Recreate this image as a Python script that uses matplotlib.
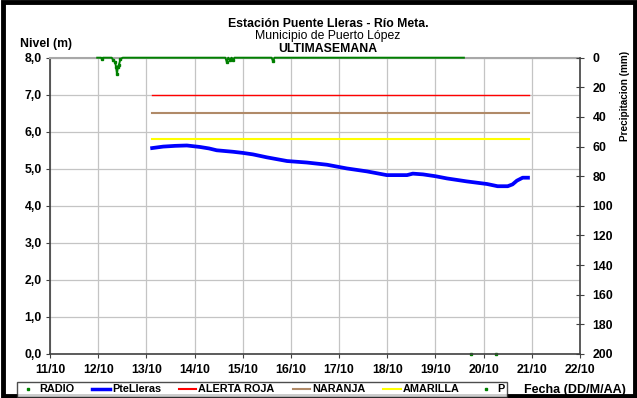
import matplotlib
matplotlib.use('Agg')
import matplotlib.pyplot as plt
from matplotlib.lines import Line2D
from matplotlib.patches import Rectangle

plt.rcParams['font.family'] = ['Liberation Sans', 'DejaVu Sans']

# ---------------- data ----------------
x_ticks = [11, 12, 13, 14, 15, 16, 17, 18, 19, 20, 21, 22]
x_tick_labels = ['11/10', '12/10', '13/10', '14/10', '15/10', '16/10',
                 '17/10', '18/10', '19/10', '20/10', '21/10', '22/10']
y_ticks = [0, 1, 2, 3, 4, 5, 6, 7, 8]
y_tick_labels = ['0,0', '1,0', '2,0', '3,0', '4,0', '5,0', '6,0', '7,0', '8,0']
p_ticks = [0, 20, 40, 60, 80, 100, 120, 140, 160, 180, 200]

# PteLleras water level (m), day of October
level_days = [13.12, 13.35, 13.6, 13.84, 14.11, 14.3, 14.46, 14.8, 15.0, 15.21,
              15.5, 15.92, 16.33, 16.75, 17.16, 17.58, 17.99, 18.41, 18.53,
              18.74, 19.0, 19.24, 19.65, 20.07, 20.29, 20.5, 20.6, 20.69,
              20.81, 20.92]
level_values = [5.56, 5.60, 5.62, 5.63, 5.59, 5.55, 5.50, 5.46, 5.43, 5.39,
                5.31, 5.21, 5.17, 5.11, 5.01, 4.93, 4.83, 4.83, 4.87,
                4.85, 4.80, 4.74, 4.66, 4.59, 4.53, 4.53, 4.58, 4.68,
                4.76, 4.76]

# alert thresholds (m)
alert_days = [13.12, 20.94]
roja_level = [7.0, 7.0]
naranja_level = [6.5, 6.5]
amarilla_level = [5.8, 5.8]

# precipitation P (mm)
p_days = [11.98, 12.06, 12.08, 12.10, 12.28, 12.31, 12.35, 12.37, 12.39,
          12.41, 12.43, 12.46, 12.51, 14.64, 14.67, 14.70, 14.73, 14.77,
          14.80, 14.83, 15.60, 15.63, 15.66, 19.59]
p_values = [0, 0, 1, 0, 0, 1.5, 3, 6, 11, 6, 5, 1, 0, 0, 3, 0, 1.5, 0,
            1.5, 0, 0, 2.5, 0, 0]

# RADIO (m)
radio_days = [19.73, 20.25]
radio_values = [0.0, 0.0]

# ---------------- figure ----------------
W, H = 637, 398
fig = plt.figure(figsize=(W / 100, H / 100), dpi=100)
fig.patch.set_facecolor('white')

ax = fig.add_axes([50 / W, 1 - 354 / H, (580 - 50) / W, (354 - 57.7) / H])
ax2 = ax.twinx()

ax.set_xlim(11, 22)
ax.set_ylim(0, 8)
ax2.set_ylim(200, 0)

FS = 8.8
ax.set_xticks(x_ticks)
ax.set_xticklabels(x_tick_labels, fontsize=FS, fontweight='bold')
ax.set_yticks(y_ticks)
ax.set_yticklabels(y_tick_labels, fontsize=FS, fontweight='bold')
ax2.set_yticks(p_ticks)
ax2.set_yticklabels([str(v) for v in p_ticks], fontsize=FS, fontweight='bold')

ax.grid(True, color='#c4c4c4', lw=0.9)
ax.set_axisbelow(True)

spine_c = '#404040'
for sp in ['left', 'bottom']:
    ax.spines[sp].set_color(spine_c)
    ax.spines[sp].set_linewidth(1.2)
ax.spines['top'].set_color('#a8a8a8')
ax.spines['top'].set_linewidth(1.5)
ax.spines['right'].set_visible(False)
ax2.spines['right'].set_color(spine_c)
ax2.spines['right'].set_linewidth(1.2)
for sp in ['left', 'bottom', 'top']:
    ax2.spines[sp].set_visible(False)

ax.tick_params(axis='x', direction='out', length=3, color=spine_c, pad=4)
ax.tick_params(axis='y', direction='out', length=3, color=spine_c, pad=3)
ax2.tick_params(axis='y', direction='inout', length=6, color=spine_c, pad=6)

# series
ax.plot(alert_days, roja_level, color='#ff0000', lw=1.0)
ax.plot(alert_days, naranja_level, color='#b08a68', lw=1.5)
ax.plot(alert_days, amarilla_level, color='#ffff00', lw=1.5)
ax.plot(level_days, level_values, color='#0000ff', lw=2.7)
ax.plot(radio_days, radio_values, ls='none', marker='s', ms=2,
        color='#008000', clip_on=False)
ax2.plot(p_days, p_values, color='#008000', lw=1.4, clip_on=False)
p_wet_days = [d for d, v in zip(p_days, p_values) if v > 0]
p_wet_values = [v for v in p_values if v > 0]
ax2.plot(p_wet_days, p_wet_values, ls='none', color='#008000', marker='s',
         ms=2, clip_on=False)

# titles
fig.text(0.515, 1 - 24 / H, 'Estación Puente Lleras - Río Meta.', ha='center',
         va='center', fontsize=8.8, fontweight='bold')
fig.text(0.515, 1 - 36 / H, 'Municipio de Puerto López', ha='center',
         va='center', fontsize=8.8)
fig.text(0.515, 1 - 48.5 / H, 'ULTIMASEMANA', ha='center', va='center',
         fontsize=8.8, fontweight='bold')
fig.text(20 / W, 1 - 44 / H, 'Nivel (m)', ha='left', va='center',
         fontsize=8.8, fontweight='bold')
fig.text(625 / W, 1 - 96 / H, 'Precipitacion (mm)', ha='center', va='center',
         rotation=90, fontsize=7.2, fontweight='bold')
fig.text(575 / W, 1 - 390 / H, 'Fecha (DD/M/AA)', ha='center', va='center',
         fontsize=9, fontweight='bold')

# legend
handles = [
    Line2D([], [], ls='none', marker='s', ms=2, color='#008000'),
    Line2D([], [], color='#0000ff', lw=2.5),
    Line2D([], [], color='#ff0000', lw=1.5),
    Line2D([], [], color='#b08a68', lw=1.5),
    Line2D([], [], color='#ffff00', lw=1.5),
    Line2D([], [], ls='none', marker='s', ms=2, color='#008000'),
]
labels = ['RADIO', 'PteLleras', 'ALERTA ROJA', 'NARANJA', 'AMARILLA', 'P']
leg = fig.legend(handles, labels, loc='lower left',
                 bbox_to_anchor=(17 / W, 1 / H, (507 - 17) / W, 17 / H),
                 mode='expand', ncol=6, frameon=True, fancybox=False,
                 prop={'size': 7.8, 'weight': 'bold'}, handlelength=1.6,
                 handletextpad=0.2, borderpad=0.25, borderaxespad=0,
                 columnspacing=0.6)
leg.get_frame().set_edgecolor('#202020')
leg.get_frame().set_linewidth(1.0)

# outer border
fig.patches.append(Rectangle((2.5 / W, 2 / H), 1 - 5 / W, 1 - 4 / H,
                             transform=fig.transFigure, fill=False,
                             lw=3.5, ec='black'))

fig.savefig('out.png', dpi=100)
